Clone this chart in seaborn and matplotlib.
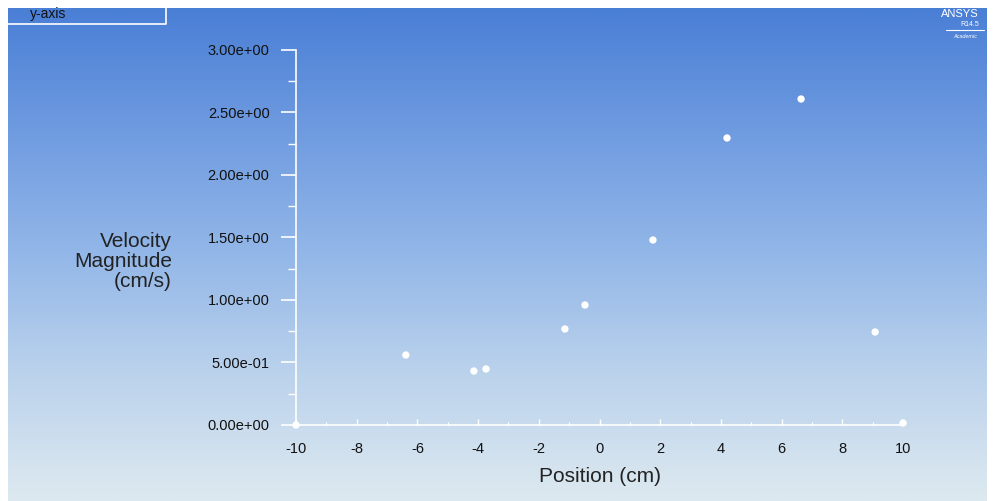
import numpy as np
import pandas as pd
import matplotlib.pyplot as plt
import seaborn as sns
from matplotlib.colors import LinearSegmentedColormap
from matplotlib.ticker import MultipleLocator, FuncFormatter

# valori
posizione = [-10.0, -6.38, -4.14, -3.74, -1.14, -0.48, 1.76, 4.2, 6.64, 9.08, 10.0]
velocita = [0.0, 0.56, 0.432, 0.448, 0.768, 0.96, 1.48, 2.296, 2.608, 0.744, 0.016]
x_ticks = [-10, -8, -6, -4, -2, 0, 2, 4, 6, 8, 10]
y_ticks = [0.0, 0.5, 1.0, 1.5, 2.0, 2.5, 3.0]

df = pd.DataFrame({"pos": posizione, "vel": velocita})

sns.set_theme(style="white")
plt.rcParams["font.family"] = ["Liberation Sans", "DejaVu Sans"]
plt.rcParams["axes.unicode_minus"] = False

fig = plt.figure(figsize=(9.94, 5.01), dpi=100)
fig.patch.set_facecolor("white")

# sfondo sfumato blu -> azzurro chiaro
bg = fig.add_axes([0.008, 0, 0.984, 0.984])
cmap = LinearSegmentedColormap.from_list(
    "sfondo", ["#4a7fd6", "#6f9be0", "#93b7e8", "#bcd3ec", "#dde9f0"])
grad = np.linspace(0, 1, 256).reshape(-1, 1)
bg.imshow(grad, aspect="auto", cmap=cmap, extent=[0, 1, 0, 1])
bg.set_axis_off()

# riquadro "y-axis" in alto a sinistra
bg.plot([0.0, 0.162, 0.162], [0.967, 0.967, 1.0], color="white", lw=1.2,
        transform=bg.transAxes)
fig.text(0.03, 0.972, "y-axis", fontsize=10, color="#111111", va="center")

# logo in alto a destra
fig.text(0.985, 0.972, "ANSYS", fontsize=8, color="white", ha="right",
         va="center", zorder=10)
fig.text(0.985, 0.952, "R14.5", fontsize=5, color="white", ha="right",
         va="center", zorder=10)
fig.add_artist(plt.Line2D([0.952, 0.99], [0.94, 0.94], color="white", lw=0.8,
                          transform=fig.transFigure))
fig.text(0.971, 0.928, "Academic", fontsize=4, color="white", ha="center",
         va="center", style="italic")

ax = fig.add_axes([0.2978, 0.1517, 0.6107, 0.7485])
ax.set_facecolor("none")
sns.scatterplot(data=df, x="pos", y="vel", ax=ax, color="white", s=28,
                edgecolor="none", legend=False, clip_on=False, zorder=5)

ax.set_xlim(-10, 10)
ax.set_ylim(0, 3.0)
ax.set_xticks(x_ticks)
ax.set_yticks(y_ticks)
ax.xaxis.set_minor_locator(MultipleLocator(1))
ax.yaxis.set_minor_locator(MultipleLocator(0.25))
ax.yaxis.set_major_formatter(FuncFormatter(lambda v, p: f"{v:.2e}"))

for s in ["top", "right"]:
    ax.spines[s].set_visible(False)
for s in ["left", "bottom"]:
    ax.spines[s].set_color("white")
    ax.spines[s].set_linewidth(1.2)

ax.tick_params(axis="y", which="major", direction="out", length=11, width=1.2,
               color="white", labelsize=10.5, labelcolor="#111111", pad=8,
               left=True)
ax.tick_params(axis="y", which="minor", direction="out", length=6, width=1.0,
               color="white", left=True)
ax.tick_params(axis="x", which="major", direction="in", length=4, width=1.0,
               color="white", labelsize=10.5, labelcolor="#111111", pad=12,
               bottom=True)
ax.tick_params(axis="x", which="minor", direction="in", length=2, width=0.8,
               color="white", bottom=True)

ax.set_xlabel("Position (cm)", fontsize=15, color="#222222", labelpad=8)
ax.set_ylabel("")
fig.text(0.173, 0.478, "Velocity\nMagnitude\n(cm/s)", fontsize=15,
         color="#222222", ha="right", va="center", linespacing=1.08)

plt.savefig("out.png", dpi=100, facecolor=fig.get_facecolor())
plt.close()
